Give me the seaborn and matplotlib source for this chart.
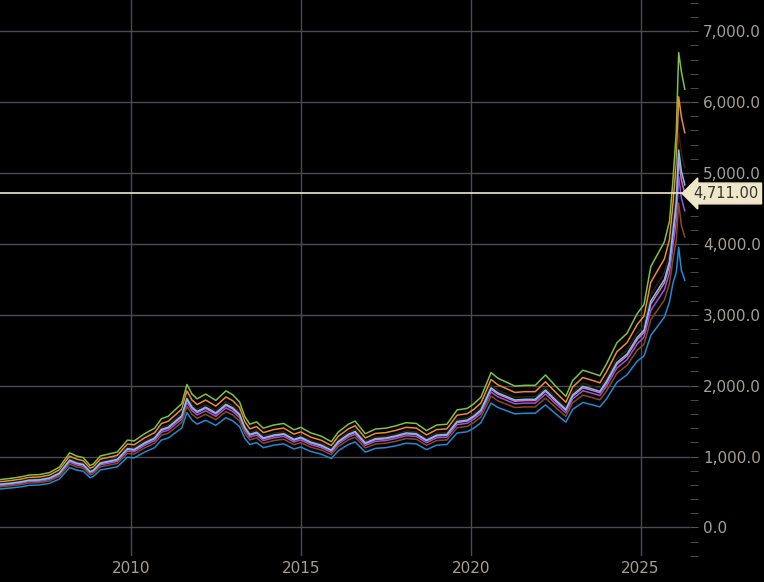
import matplotlib
matplotlib.use("Agg")
import matplotlib.pyplot as plt
import seaborn as sns
import pandas as pd
import numpy as np
from matplotlib.ticker import FuncFormatter, MultipleLocator

dates = [2006.1,2006.3,2006.5,2006.8,2007.0,2007.3,2007.6,2007.9,2008.1,2008.2,2008.4,2008.6,2008.8,2008.9,2009.1,2009.3,2009.6,2009.9,2010.1,2010.4,2010.7,2010.9,2011.1,2011.3,2011.5,2011.65,2011.8,2011.95,2012.2,2012.5,2012.8,2013.0,2013.2,2013.35,2013.5,2013.7,2013.9,2014.2,2014.5,2014.8,2015.0,2015.3,2015.6,2015.9,2016.1,2016.4,2016.6,2016.9,2017.2,2017.5,2017.8,2018.1,2018.4,2018.7,2019.0,2019.3,2019.6,2019.9,2020.1,2020.3,2020.6,2020.8,2021.1,2021.3,2021.6,2021.9,2022.2,2022.5,2022.8,2023.0,2023.3,2023.6,2023.8,2024.0,2024.3,2024.6,2024.9,2025.1,2025.3,2025.5,2025.7,2025.85,2025.95,2026.05,2026.12,2026.2,2026.3]
base = [600,610,620,640,660,665,690,760,880,940,900,880,780,800,900,920,950,1100,1090,1180,1250,1370,1400,1480,1560,1800,1680,1620,1680,1600,1720,1670,1580,1400,1300,1330,1250,1290,1310,1230,1260,1190,1150,1080,1200,1300,1340,1180,1240,1250,1280,1320,1310,1220,1290,1300,1480,1500,1560,1640,1950,1880,1820,1780,1790,1790,1920,1780,1650,1850,1970,1930,1900,2040,2300,2420,2650,2750,3150,3300,3450,3700,4100,4500,5200,4900,4711]
spread = [1.0]*70 + [1.05,1.05,1.05,1.1,1.1,1.1,1.15,1.2,1.4,1.4,1.4,1.4,1.6,2.0,2.4,2.6,2.6]
band_names = ["green","orange","darkbrown","pink","purple","lightblue","brown","blue"]
band_offsets = [0.12,0.07,0.03,0.0,-0.02,0.01,-0.05,-0.10]
band_colors = ["#7fc241","#f08c2a","#3a1e08","#e070b0","#9a50e0","#70c8f0","#8a4a18","#1f8ad8"]

df = pd.DataFrame({"date": dates, "base": base, "spread": spread})

fig = plt.figure(figsize=(7.64, 5.82), dpi=100, facecolor="black")
ax = fig.add_axes([0.0, 0.045, 0.903, 0.955])
ax.set_facecolor("black")
for name, off, col in zip(band_names, band_offsets, band_colors):
    y = df["base"] * (1 + off * df["spread"])
    sns.lineplot(x=df["date"], y=y, color=col, lw=1.1, ax=ax)
ax.axhline(4711, color="#f0e6c8", lw=1.2)
ax.set_xlim(2006.15, 2026.45)
ax.set_ylim(-400, 7440)
ax.yaxis.tick_right()
ax.yaxis.set_major_locator(MultipleLocator(1000))
ax.yaxis.set_minor_locator(MultipleLocator(200))
ax.yaxis.set_major_formatter(FuncFormatter(lambda v, p: f"{v:,.1f}"))
ax.set_xticks([2010, 2015, 2020, 2025])
ax.grid(True, which="major", color="#4a4a55", lw=1)
ax.tick_params(axis="both", colors="#9a9a9a", labelsize=11, length=0)
ax.tick_params(axis="y", which="minor", length=6, color="#555555", direction="out")
ax.tick_params(axis="y", which="major", length=6, color="#555555", direction="out")
for lab in ax.get_xticklabels() + ax.get_yticklabels():
    lab.set_color("#a89e90")
for s in ax.spines.values():
    s.set_visible(False)
ax.set_xlabel(""); ax.set_ylabel("")
ax.text(1.005, 4711, "4,711.00", transform=ax.get_yaxis_transform(), va="center", ha="left",
        fontsize=10.5, color="#333333",
        bbox=dict(boxstyle="larrow,pad=0.2", fc="#f0e6c8", ec="#f0e6c8"))
fig.savefig("out.png", facecolor="black")
